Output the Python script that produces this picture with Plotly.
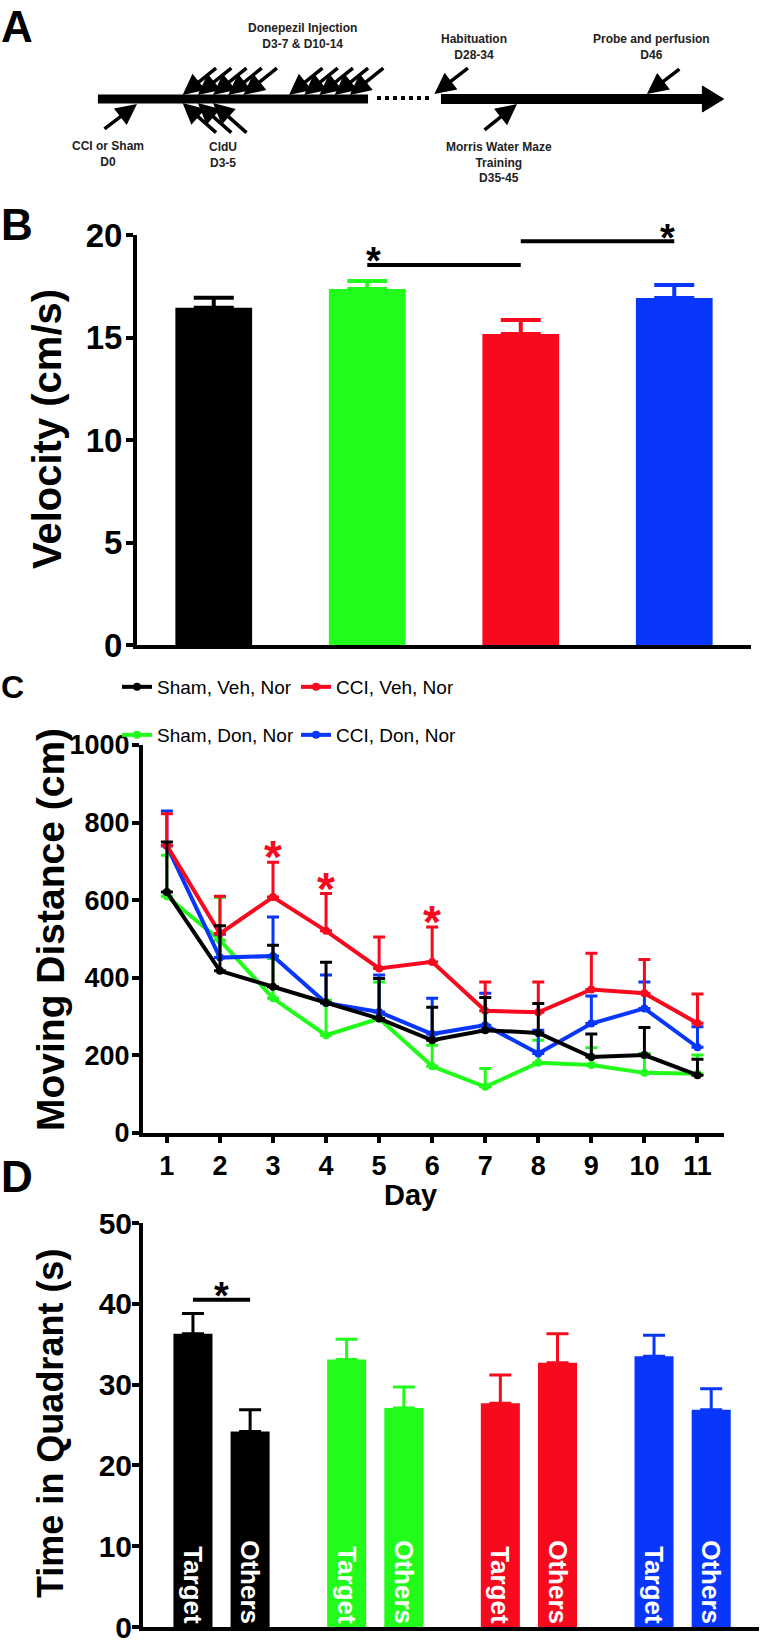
import plotly.graph_objects as go

W, H = 762, 1644

# ---------------- Panel A: protocol timeline (days) ----------------
surgery_day = 0
cldu_days = [3, 4, 5]
donepezil_days = [3, 4, 5, 6, 7, 10, 11, 12, 13, 14]
habituation_day = 28
mwm_day = 35
probe_day = 46

# ---------------- Panel B: swim velocity ----------------
groups = ["Sham, Veh, Nor", "Sham, Don, Nor", "CCI, Veh, Nor", "CCI, Don, Nor"]
group_colors = ["#000000", "#22fc1a", "#f7091e", "#0836fb"]
velocity_mean = [16.45, 17.37, 15.17, 16.93]
velocity_sem = [0.49, 0.39, 0.68, 0.63]

# ---------------- Panel C: moving distance per day ----------------
days = [1, 2, 3, 4, 5, 6, 7, 8, 9, 10, 11]
dist_sham_veh = [621, 418, 377, 336, 295, 239, 265, 258, 196, 201, 149]
dist_sham_veh_sem = [129, 116, 107, 104, 103, 85, 84, 76, 59, 71, 41]
dist_cci_veh = [741, 514, 608, 521, 424, 441, 315, 311, 370, 360, 283]
dist_cci_veh_sem = [82, 96, 90, 96, 81, 90, 74, 78, 93, 87, 75]
dist_sham_don = [610, 497, 347, 252, 295, 172, 119, 181, 175, 155, 153]
dist_sham_don_sem = [106, 110, 103, 90, 94, 54, 47, 58, 45, 50, 48]
dist_cci_don = [740, 452, 456, 335, 312, 255, 278, 205, 282, 321, 221]
dist_cci_don_sem = [90, 60, 101, 72, 95, 92, 82, 60, 71, 68, 53]
sig_days_cci_veh = [3, 4, 6]

# ---------------- Panel D: probe trial ----------------
quadrants = ["Target", "Others"]
target_mean = [36.3, 33.1, 27.7, 33.5]
target_sem = [2.5, 2.5, 3.5, 2.6]
others_mean = [24.2, 27.1, 32.7, 26.9]
others_sem = [2.7, 2.6, 3.6, 2.6]

FONT = "Liberation Sans, Arial, Helvetica, sans-serif"


def px(x):
    return x / W


def py(y):
    return 1 - y / H


fig = go.Figure()

# ---- Panel B bars
for g, c, m, s in zip(groups, group_colors, velocity_mean, velocity_sem):
    fig.add_trace(go.Bar(
        x=[g], y=[m], width=0.5, marker=dict(color=c, line=dict(width=0)),
        error_y=dict(type="data", array=[s], arrayminus=[0], symmetric=False,
                     color=c, thickness=4, width=20),
        xaxis="x", yaxis="y", showlegend=False, hoverinfo="skip"))

# ---- Panel C lines (draw order: green, blue, red, black); one legend box per entry
series_c = [
    ("Sham, Don, Nor", dist_sham_don, dist_sham_don_sem, group_colors[1], "legend2"),
    ("CCI, Don, Nor", dist_cci_don, dist_cci_don_sem, group_colors[3], "legend4"),
    ("CCI, Veh, Nor", dist_cci_veh, dist_cci_veh_sem, group_colors[2], "legend3"),
    ("Sham, Veh, Nor", dist_sham_veh, dist_sham_veh_sem, group_colors[0], "legend"),
]
for name, vals, sems, c, leg in series_c:
    fig.add_trace(go.Scatter(
        x=days, y=vals, name=name, mode="lines+markers",
        line=dict(color=c, width=4), marker=dict(color=c, size=8),
        error_y=dict(type="data", array=sems, arrayminus=[0] * len(sems),
                     symmetric=False, color=c, thickness=3, width=6),
        xaxis="x2", yaxis="y2", legend=leg,
        cliponaxis=False, hoverinfo="skip"))

# ---- Panel D grouped bars
D_W = 0.254
D_OFF = 0.186
for i, (g, c) in enumerate(zip(groups, group_colors)):
    for label, means, sems, off in ((quadrants[0], target_mean, target_sem, -D_OFF),
                                    (quadrants[1], others_mean, others_sem, D_OFF)):
        fig.add_trace(go.Bar(
            x=[g], y=[means[i]], width=D_W, offset=off - D_W / 2,
            marker=dict(color=c, line=dict(width=0)),
            error_y=dict(type="data", array=[sems[i]], arrayminus=[0], symmetric=False,
                         color=c, thickness=3, width=11),
            text=[label], textposition="inside", insidetextanchor="start", textangle=90,
            insidetextfont=dict(color="white", size=26, family=FONT, weight="bold"),
            xaxis="x3", yaxis="y3", showlegend=False, hoverinfo="skip"))

annotations = []
shapes = []


def label_ann(text, x, y, size, anchor="left", color="black", angle=0, yanchor="middle"):
    return dict(text=text, xref="paper", yref="paper", x=px(x), y=py(y),
                xanchor=anchor, yanchor=yanchor, showarrow=False, textangle=angle,
                font=dict(family=FONT, size=size, color=color, weight="bold"))


# panel letters
annotations += [label_ann("A", -1, 0, 44, yanchor="top"), label_ann("B", -1, 225, 44),
                label_ann("C", -1, 687, 32), label_ann("D", -1, 1176, 44)]
# axis titles
annotations += [label_ann("Velocity (cm/s)", 47, 429, 40, "center", angle=-90),
                label_ann("Moving Distance (cm)", 50, 930, 39, "center", angle=-90),
                label_ann("Time in Quadrant (s)", 50, 1424, 36, "center", angle=-90),
                label_ann("Day", 410, 1195, 29, "center")]

# ---- Panel B significance
B_SIG1, B_SIG2 = 18.54, 19.7
shapes += [dict(type="line", xref="x", yref="y", x0=1, x1=2, y0=B_SIG1, y1=B_SIG1,
                line=dict(color="black", width=4)),
           dict(type="line", xref="x", yref="y", x0=2, x1=3, y0=B_SIG2, y1=B_SIG2,
                line=dict(color="black", width=4))]
STAR = dict(showarrow=False, text="*", yanchor="bottom")
annotations += [dict(STAR, xref="x", yref="y", x=1, y=B_SIG1, xanchor="left", xshift=-3, yshift=-19,
                     font=dict(family=FONT, size=38, color="black", weight="bold")),
                dict(STAR, xref="x", yref="y", x=3, y=B_SIG2, xanchor="right", xshift=3, yshift=-20,
                     font=dict(family=FONT, size=38, color="black", weight="bold"))]

# ---- Panel C significance stars
for d in sig_days_cci_veh:
    k = days.index(d)
    annotations.append(dict(STAR, xref="x2", yref="y2", x=d, y=dist_cci_veh[k] + dist_cci_veh_sem[k],
                            xanchor="center", yshift=-23,
                            font=dict(family=FONT, size=46, color=group_colors[2], weight="bold")))

# ---- Panel D significance
D_SIG = 40.5
shapes.append(dict(type="line", xref="x3", yref="y3", x0=-D_OFF, x1=D_OFF, y0=D_SIG, y1=D_SIG,
                   line=dict(color="black", width=4)))
annotations.append(dict(STAR, xref="x3", yref="y3", x=0, y=D_SIG, xanchor="center", yshift=-19,
                        font=dict(family=FONT, size=38, color="black", weight="bold")))

# ---- Panel A timeline (x4: days of first segment, x5: days of second segment)
BAR_Y = 99
shapes += [
    dict(type="line", xref="x4", yref="y4", x0=-2.57, x1=15.2, y0=BAR_Y, y1=BAR_Y,
         line=dict(color="black", width=9)),
    dict(type="line", xref="paper", yref="y4", x0=px(377), x1=px(430), y0=BAR_Y - 1, y1=BAR_Y - 1,
         line=dict(color="black", width=4, dash="4px,4px")),
    dict(type="line", xref="x5", yref="y4", x0=28.56, x1=51.0, y0=BAR_Y, y1=BAR_Y,
         line=dict(color="black", width=10)),
    dict(type="path", xref="x5", yref="y4", path="M 50.7,86 L 52.5,99 L 50.7,112 Z",
         fillcolor="black", line=dict(color="black", width=1)),
]
ARROW = dict(showarrow=True, arrowhead=2, arrowsize=1.2, arrowwidth=3.5, arrowcolor="black",
             text="", axref="pixel", ayref="pixel", standoff=0, yref="y4")
for d in donepezil_days:
    annotations.append(dict(ARROW, xref="x4", x=d, y=BAR_Y - 4, ax=35, ay=-28))
for d in cldu_days:
    annotations.append(dict(ARROW, xref="x4", x=d, y=BAR_Y + 4, ax=35, ay=31))
annotations.append(dict(ARROW, xref="x4", x=surgery_day, y=BAR_Y + 5, ax=-34, ay=26))
annotations.append(dict(ARROW, xref="x5", x=habituation_day, y=BAR_Y - 5, ax=35, ay=-27))
annotations.append(dict(ARROW, xref="x5", x=probe_day, y=BAR_Y - 5, ax=34, ay=-26))
annotations.append(dict(ARROW, xref="x5", x=mwm_day, y=BAR_Y + 5, ax=-34, ay=27))

TXT = dict(showarrow=False, yref="y4", xanchor="center", yanchor="middle",
           font=dict(family=FONT, size=12, color="#222222", weight="bold"))
annotations += [
    dict(TXT, xref="x4", x=sum(donepezil_days) / len(donepezil_days), xshift=36, y=36,
         text="Donepezil Injection<br>D3-7 & D10-14"),
    dict(TXT, xref="x4", x=surgery_day, xshift=-29, y=154, text="CCI or Sham<br>D0"),
    dict(TXT, xref="x4", x=sum(cldu_days) / len(cldu_days), xshift=25, y=155, text="CldU<br>D3-5"),
    dict(TXT, xref="x5", x=habituation_day, xshift=40, y=47, text="Habituation<br>D28-34"),
    dict(TXT, xref="x5", x=probe_day, xshift=5, y=47, text="Probe and perfusion<br>D46"),
    dict(TXT, xref="x5", x=mwm_day, xshift=-18, y=162, text="Morris Water Maze<br>Training<br>D35-45"),
]

AX = dict(showline=True, linecolor="black", linewidth=4, showgrid=False, zeroline=False,
          ticks="outside", tickcolor="black", tickwidth=4, ticklen=7, automargin=False,
          tickfont=dict(family=FONT, color="black", weight="bold"))

legend_common = dict(orientation="h", xanchor="left", yanchor="middle",
                     font=dict(family=FONT, size=19, color="black"),
                     bgcolor="rgba(0,0,0,0)", itemwidth=30,
                     itemclick=False, itemdoubleclick=False)

fig.update_layout(
    width=W, height=H, margin=dict(l=0, r=0, t=0, b=0, pad=0, autoexpand=False),
    paper_bgcolor="white", plot_bgcolor="white", barmode="overlay", hovermode=False,
    showlegend=True,
    legend=dict(legend_common, x=px(117), y=py(687)),
    legend3=dict(legend_common, x=px(296), y=py(687)),
    legend2=dict(legend_common, x=px(117), y=py(735)),
    legend4=dict(legend_common, x=px(296), y=py(735)),
    # panel B
    xaxis=dict(AX, domain=[px(137), px(751)], range=[-0.5, 3.5], anchor="y",
               showticklabels=False, ticks=""),
    yaxis=dict(AX, domain=[py(645), py(235)], range=[0, 20], tickvals=[0, 5, 10, 15, 20],
               anchor="x", ticklabelstandoff=-3,
               tickfont=dict(family=FONT, color="black", weight="bold", size=33)),
    # panel C
    xaxis2=dict(AX, domain=[px(143), px(724)], range=[0.55, 11.5], tickvals=days, anchor="y2",
                ticklen=6, tickfont=dict(family=FONT, color="black", weight="bold", size=27)),
    yaxis2=dict(AX, domain=[py(1133), py(745)], range=[0, 1000], tickvals=[0, 200, 400, 600, 800, 1000],
                anchor="x2", ticklabelstandoff=-3,
                tickfont=dict(family=FONT, color="black", weight="bold", size=27)),
    # panel D
    xaxis3=dict(AX, domain=[px(143), px(759)], range=[-0.511, 3.497], anchor="y3",
                showticklabels=False, ticks=""),
    yaxis3=dict(AX, domain=[py(1627), py(1223)], range=[0, 50], tickvals=[0, 10, 20, 30, 40, 50],
                anchor="x3", ticklabelstandoff=-6,
                tickfont=dict(family=FONT, color="black", weight="bold", size=30)),
    # panel A schematic axes
    xaxis4=dict(domain=[0, 0.5], range=[-137 / 15.2, (381 - 137) / 15.2], anchor="y4",
                visible=False, automargin=False),
    xaxis5=dict(domain=[0.5, 1], range=[23.48, 55.75], anchor="y4", visible=False, automargin=False),
    yaxis4=dict(domain=[py(195), 1], range=[195, 0], anchor="x4", visible=False, automargin=False),
    annotations=annotations, shapes=shapes,
)

fig.write_html("out.html", config={"displayModeBar": False},
               post_script="document.body.style.margin='0';")
